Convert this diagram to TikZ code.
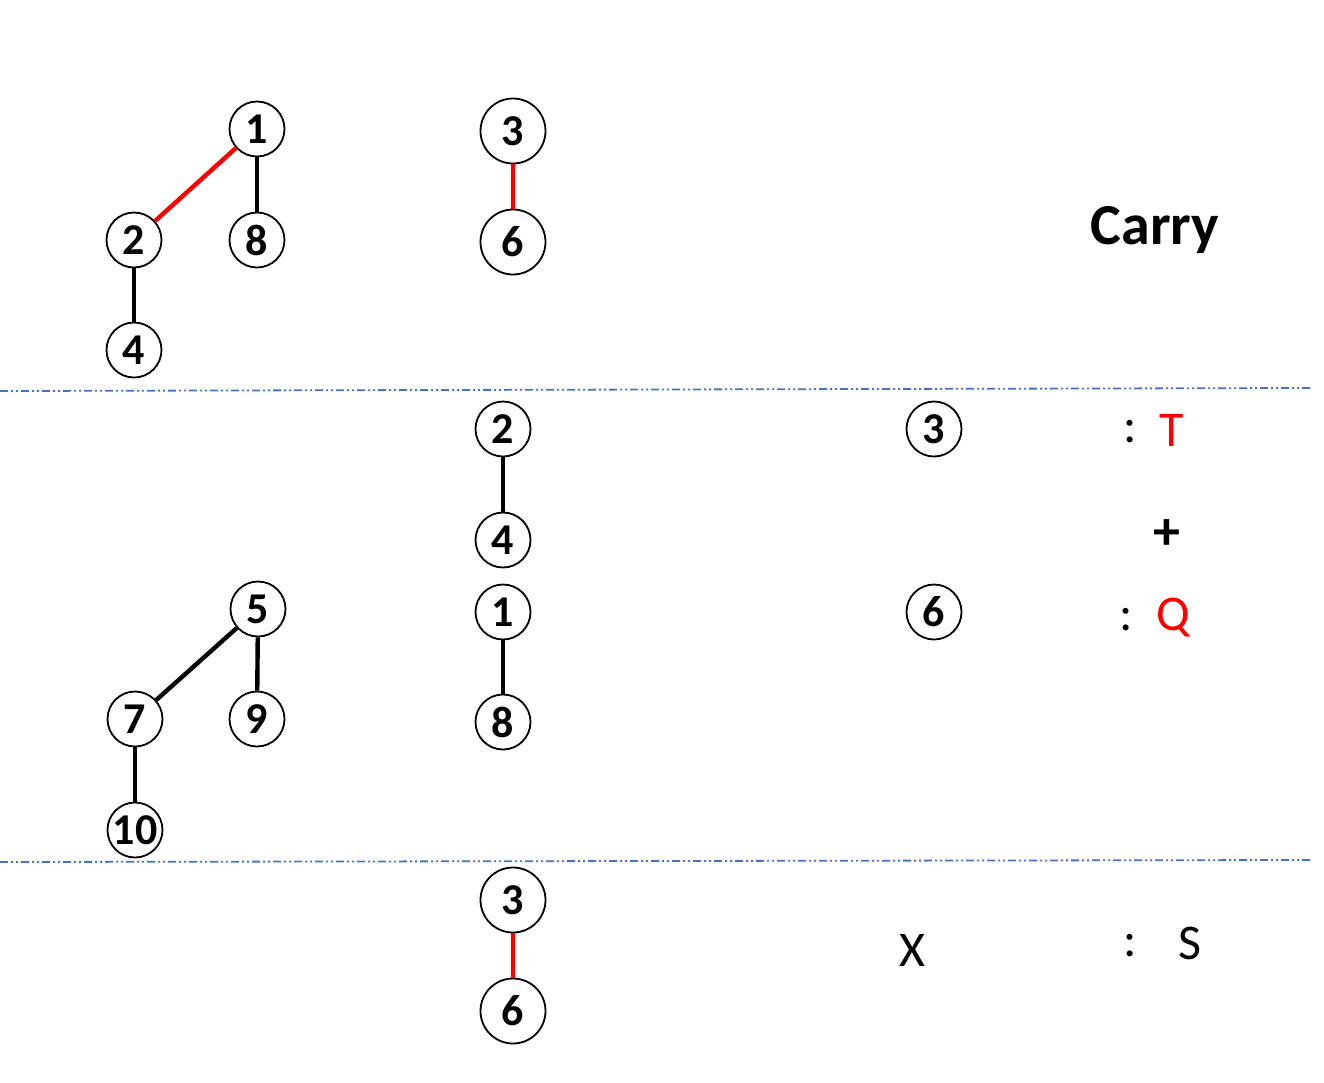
\documentclass[tikz,border=0pt]{standalone}
\usepackage{fontspec}
\setmainfont{Carlito}
\definecolor{sepblue}{HTML}{4472C4}
\begin{document}
\begin{tikzpicture}[x=1pt,y=-1pt,
  vtx/.style={circle,draw=black,line width=1.8pt,fill=white,minimum size=55pt,inner sep=0pt,font=\fontsize{44}{44}\selectfont\bfseries},
  bigvtx/.style={vtx,minimum size=65pt},
  edg/.style={line width=4.4pt,black},
  redg/.style={line width=4.4pt,red},
  sep/.style={sepblue,line width=1.8pt,dash pattern=on 8pt off 3pt on 2pt off 3pt on 2pt off 3pt},
  lbl/.style={inner sep=0pt,font=\fontsize{50}{50}\selectfont}]
\useasboundingbox (0,0) rectangle (1324,1082);
% separators
\coordinate (s1a) at (0,391); \coordinate (s1b) at (1310,388);
\coordinate (s2a) at (0,862); \coordinate (s2b) at (1310,860);
\draw[sep] (s1a) -- (s1b);
\draw[sep] (s2a) -- (s2b);
% top-left tree
\node[vtx] (a1) at (257,129) {1};
\node[vtx] (a8) at (257,240) {8};
\node[vtx] (a2) at (134,240) {2};
\node[vtx] (a4) at (134,350) {4};
\draw[redg] (a1) -- (a2);
\draw[edg] (a1) -- (a8);
\draw[edg] (a2) -- (a4);
% top middle
\node[bigvtx] (b3) at (513,131) {3};
\node[bigvtx] (b6) at (513,242) {6};
\draw[redg] (b3) -- (b6);
\node[inner sep=0pt,font=\fontsize{58}{58}\selectfont\bfseries] (carry) at (1155,230) {Carry};
% middle section
\node[vtx] (c2) at (503,429) {2};
\node[vtx] (c4) at (503,540) {4};
\node[vtx] (c1) at (503,612) {1};
\node[vtx] (c8) at (503,722) {8};
\draw[edg] (c2) -- (c4);
\draw[edg] (c1) -- (c8);
\node[vtx] (d3) at (934,429) {3};
\node[vtx] (d6) at (934,612) {6};
\node[lbl] (col1) at (1130,432) {:};
\node[lbl,red] (tT) at (1172,430) {T};
\node[inner sep=0pt,font=\fontsize{54}{54}\selectfont\bfseries] (plus) at (1167,535) {+};
\node[lbl] (col2) at (1126,620) {:};
\node[lbl,red] (tQ) at (1173,618) {Q};
% lower-left tree
\node[vtx] (e5) at (258,609) {5};
\node[vtx] (e9) at (257,719) {9};
\node[vtx] (e7) at (135,719) {7};
\node[vtx] (e10) at (135,830) {10};
\draw[edg] (e5) -- (e7);
\draw[edg] (e5) -- (e9);
\draw[edg] (e7) -- (e10);
% bottom section
\node[bigvtx] (f3) at (513,900) {3};
\node[bigvtx] (f6) at (513,1011) {6};
\draw[redg] (f3) -- (f6);
\node[lbl] (tX) at (912,950) {X};
\node[lbl] (col3) at (1130,946) {:};
\node[lbl] (tS) at (1190,943) {S};
\end{tikzpicture}
\end{document}
